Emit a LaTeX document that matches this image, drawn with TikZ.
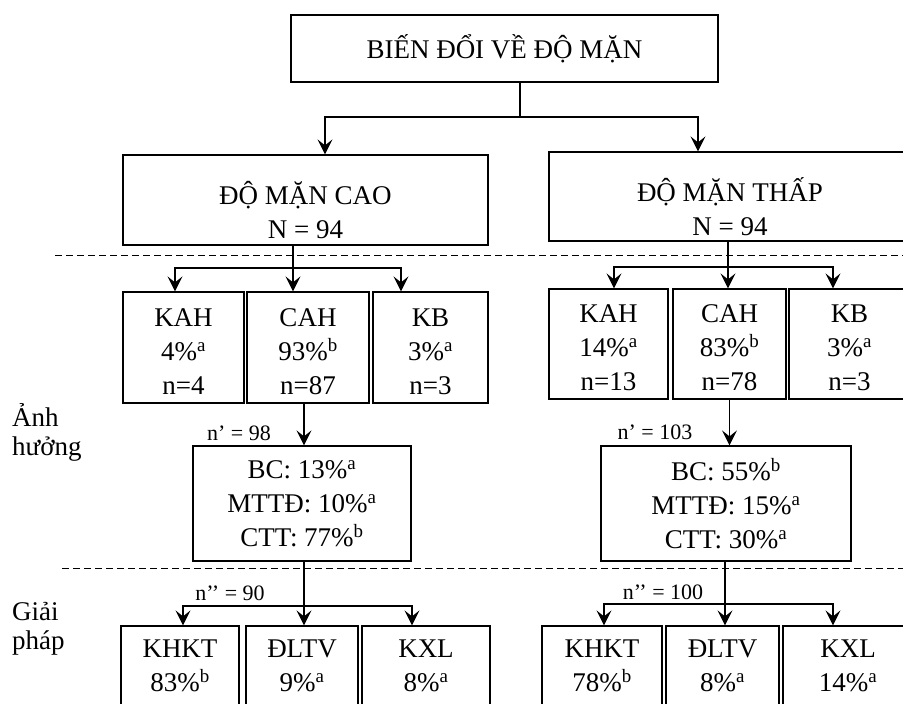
\documentclass[tikz,border=0pt]{standalone}
\usepackage{fontspec}
\setmainfont{Liberation Serif}
\usetikzlibrary{arrows.meta,positioning}
\newcommand{\topstrut}[1]{\rule{0pt}{#1}}

\begin{document}
\begin{tikzpicture}[x=1pt, y=-1pt,
    box/.style={draw, line width=1.2pt, align=center, inner sep=0pt, font=\fontsize{27}{34}\selectfont},
    conn/.style={line width=1.2pt},
    arr/.style={line width=1.2pt, -{Stealth[length=15pt, width=15pt, inset=6pt]}},
    lbl/.style={inner sep=0pt, font=\fontsize{22}{26}\selectfont},
    side/.style={inner sep=0pt, anchor=west, align=left, font=\fontsize{27}{29}\selectfont}]
    \clip (0,0) rectangle (903,704);

    % Separator lines
    \draw[line width=1pt, dash pattern=on 7pt off 4pt] (55,255) -- (903,255);
    \draw[line width=1pt, dash pattern=on 7pt off 4pt] (62,568) -- (903,568);

    % Side labels
    \node[side] (anh) at (12,432) {Ảnh\\hưởng};
    \node[side] (giai) at (12,629) {Giải\\pháp};

    % Top and salinity boxes
    \node[box, minimum width=427pt, minimum height=67pt] (bien) at (504.5,48.5) {BIẾN ĐỔI VỀ ĐỘ MẶN};
    \node[box, minimum width=365pt, minimum height=90pt] (cao) at (305.5,200) {\topstrut{43pt}ĐỘ MẶN CAO\\N = 94};
    \node[box, minimum width=362pt, minimum height=89pt] (thap) at (730,196.5) {\topstrut{44pt}ĐỘ MẶN THẤP\\N = 94};

    % Effect boxes (left)
    \node[box, minimum width=121pt, minimum height=111pt] (kahL) at (183.5,347.5) {\topstrut{26pt}KAH\\4\%\textsuperscript{a}\\n=4};
    \node[box, minimum width=122pt, minimum height=111pt] (cahL) at (308,347.5) {\topstrut{26pt}CAH\\93\%\textsuperscript{b}\\n=87};
    \node[box, minimum width=115pt, minimum height=111pt] (kbL) at (430.5,347.5) {\topstrut{26pt}KB\\3\%\textsuperscript{a}\\n=3};

    % Effect boxes (right)
    \node[box, minimum width=119pt, minimum height=110pt] (kahR) at (608.5,344) {\topstrut{26pt}KAH\\14\%\textsuperscript{a}\\n=13};
    \node[box, minimum width=113pt, minimum height=110pt] (cahR) at (729.5,344) {\topstrut{26pt}CAH\\83\%\textsuperscript{b}\\n=78};
    \node[box, minimum width=121pt, minimum height=110pt] (kbR) at (849.5,344) {\topstrut{26pt}KB\\3\%\textsuperscript{a}\\n=3};

    % Impact boxes
    \node[box, minimum width=218pt, minimum height=115pt] (bcL) at (302,503.5) {BC: 13\%\textsuperscript{a}\\MTTĐ: 10\%\textsuperscript{a}\\CTT: 77\%\textsuperscript{b}};
    \node[box, minimum width=250pt, minimum height=115pt] (bcR) at (726,503.5) {BC: 55\%\textsuperscript{b}\\MTTĐ: 15\%\textsuperscript{a}\\CTT: 30\%\textsuperscript{a}};
    \node[lbl] (nL1) at (239,433) {n’ = 98};
    \node[lbl] (nR1) at (655,432) {n’ = 103};

    % Solution boxes
    \node[box, minimum width=118pt, minimum height=80pt] (khktL) at (180,666) {KHKT\\83\%\textsuperscript{b}};
    \node[box, minimum width=112pt, minimum height=80pt] (dltvL) at (302,666) {ĐLTV\\9\%\textsuperscript{a}};
    \node[box, minimum width=128pt, minimum height=80pt] (kxlL) at (426,666) {KXL\\8\%\textsuperscript{a}};
    \node[box, minimum width=120pt, minimum height=80pt] (khktR) at (602,666) {KHKT\\78\%\textsuperscript{b}};
    \node[box, minimum width=113pt, minimum height=80pt] (dltvR) at (722.5,666) {ĐLTV\\8\%\textsuperscript{a}};
    \node[box, minimum width=130pt, minimum height=80pt] (kxlR) at (848,666) {KXL\\14\%\textsuperscript{a}};
    \node[lbl] (nL2) at (230,593) {n’’ = 90};
    \node[lbl] (nR2) at (663,592) {n’’ = 100};

    % Branch points
    \coordinate (jTop) at (520,117);
    \coordinate (jL) at (293,268);
    \coordinate (jR) at (728,267);
    \coordinate (jL2) at (304,606);
    \coordinate (jR2) at (725,604);

    % Top split
    \draw[conn] (bien.south -| jTop) -- (jTop);
    \draw[arr] (jTop) -| ([xshift=19.5pt]cao.north);
    \draw[arr] (jTop) -| ([xshift=-32pt]thap.north);

    % Salinity -> effects
    \draw[arr] (cao.south -| jL) -- (cahL.north -| jL);
    \draw[arr] (jL) -| ([xshift=-8.5pt]kahL.north);
    \draw[arr] (jL) -| ([xshift=-29.5pt]kbL.north);
    \draw[arr] (thap.south -| jR) -- (cahR.north -| jR);
    \draw[arr] (jR) -| ([xshift=5.5pt]kahR.north);
    \draw[arr] (jR) -| ([xshift=-16.5pt]kbR.north);

    % Effects -> impacts
    \draw[arr] ([xshift=-4pt]cahL.south) -- ([xshift=-4pt]cahL.south |- bcL.north);
    \draw[arr] (cahR.south) -- (cahR.south |- bcR.north);

    % Impacts -> solutions
    \draw[arr] (bcL.south -| jL2) -- (dltvL.north -| jL2);
    \draw[arr] (jL2) -| ([xshift=3pt]khktL.north);
    \draw[arr] (jL2) -| ([xshift=-14pt]kxlL.north);
    \draw[arr] (bcR.south -| jR2) -- (dltvR.north -| jR2);
    \draw[arr] (jR2) -| ([xshift=2pt]khktR.north);
    \draw[arr] (jR2) -| ([xshift=-15pt]kxlR.north);
\end{tikzpicture}
\end{document}
